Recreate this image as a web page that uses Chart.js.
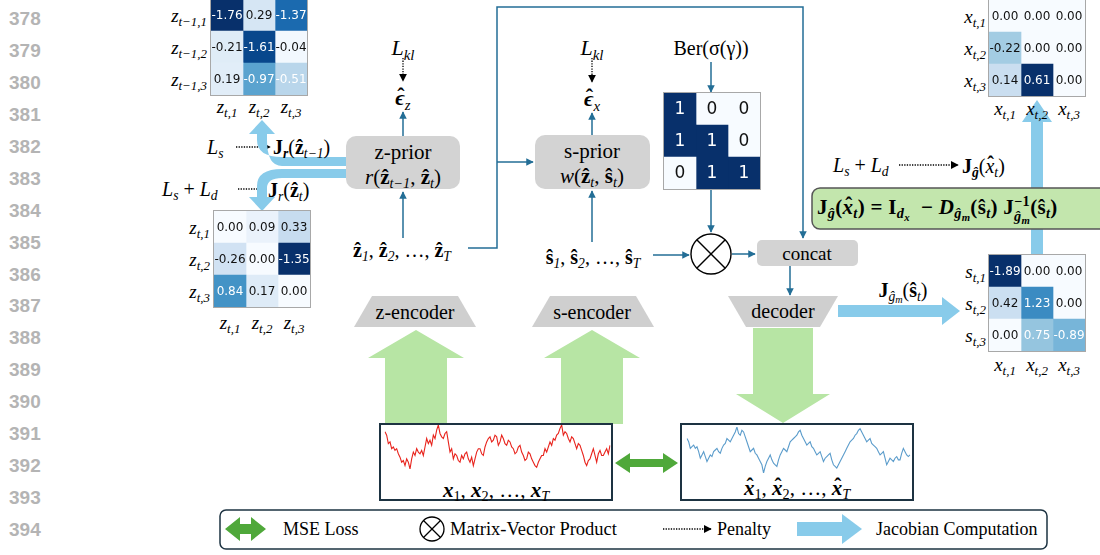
<!DOCTYPE html>
<html>
<head>
<meta charset="utf-8">
<script src="https://cdn.jsdelivr.net/npm/chart.js@4.4.1/dist/chart.umd.min.js"></script>
<style>
  body { margin:0; width:1100px; height:555px; overflow:hidden; background:#fff; position:relative; font-family:"Liberation Serif", serif; color:#000; }
  .t { position:absolute; white-space:nowrap; line-height:1; transform:translate(-50%,-50%); }
  .r { transform:translate(-100%,-50%); }
  .l { transform:translate(0,-50%); }
  .num { position:absolute; left:9px; font:600 19px "Liberation Sans", sans-serif; color:#b4b4b4; transform:translateY(-50%); }
  .mat { position:absolute; outline:1px solid #a8a8a8; }
  .mat canvas, .ts canvas { display:block; }
  .ts { position:absolute; }
  sub { font-size:68%; vertical-align:-0.32em; line-height:0; }
  sub sub, i sub { font-size:75%; vertical-align:-0.25em; }
  .ss { display:inline-block; font-size:68%; line-height:1.05; vertical-align:middle; text-align:left; }
  .ss span { display:block; }
  .hat { position:relative; display:inline-block; }
  .hat::after { content:'ˆ'; position:absolute; left:58%; top:-0.1em; transform:translateX(-50%); font-style:normal; font-weight:bold; }
  svg { position:absolute; left:0; top:0; }
</style>
</head>
<body>
<svg width="1100" height="555">
  <defs>
    <marker id="ah" viewBox="0 0 10 10" refX="9" refY="5" markerWidth="5" markerHeight="5" orient="auto"><path d="M0,0L10,5L0,10z" fill="#236e96"/></marker>
    <marker id="ak" viewBox="0 0 10 10" refX="9" refY="5" markerWidth="6" markerHeight="6" orient="auto"><path d="M0,0L10,5L0,10z" fill="#000"/></marker>
  </defs>
  <!-- grijze blokken -->
  <rect x="346" y="136" width="114" height="53" rx="10" fill="#d3d3d3"/>
  <rect x="535" y="135" width="115" height="54" rx="10" fill="#d3d3d3"/>
  <rect x="757" y="240" width="101" height="26" rx="5" fill="#d3d3d3"/>
  <polygon points="372,296 458,296 476,327 354,327" fill="#cfcfcf"/>
  <polygon points="550,296 636,296 654,327 532,327" fill="#cfcfcf"/>
  <polygon points="728,296 838,296 820,327 746,327" fill="#cfcfcf"/>
  <!-- groene pijlen -->
  <polygon points="385,424 447,424 447,358 464,358 416,330 368,358 385,358" fill="#b7e5a4"/>
  <polygon points="561,424 623,424 623,358 640,358 592,330 544,358 561,358" fill="#b7e5a4"/>
  <polygon points="753,328 813,328 813,394 830,394 783,423 736,394 753,394" fill="#b7e5a4"/>
  <!-- dunne pijlen -->
  <g stroke="#236e96" stroke-width="1.5" fill="none">
    <line x1="403" y1="238" x2="403" y2="192" marker-end="url(#ah)"/>
    <line x1="403" y1="136" x2="403" y2="112" marker-end="url(#ah)"/>
    <line x1="592" y1="242" x2="592" y2="191" marker-end="url(#ah)"/>
    <line x1="592" y1="135" x2="592" y2="113" marker-end="url(#ah)"/>
    <polyline points="468,248 497,248 497,7 803,7 803,238" marker-end="url(#ah)"/>
    <line x1="497" y1="162" x2="533" y2="162" marker-end="url(#ah)"/>
    <line x1="653" y1="255" x2="689" y2="255" marker-end="url(#ah)"/>
    <line x1="711" y1="62" x2="711" y2="92" marker-end="url(#ah)"/>
    <line x1="711" y1="190" x2="711" y2="232" marker-end="url(#ah)"/>
    <line x1="732" y1="254" x2="755" y2="254" marker-end="url(#ah)"/>
    <line x1="790" y1="266" x2="790" y2="295" marker-end="url(#ah)"/>
  </g>
  <!-- product -->
  <g stroke="#000" stroke-width="1.4" fill="none">
    <circle cx="711" cy="254" r="20"/>
    <line x1="697" y1="240" x2="725" y2="268"/>
    <line x1="725" y1="240" x2="697" y2="268"/>
  </g>
  <!-- penalty -->
  <g stroke="#000" stroke-width="1.3" stroke-dasharray="1.3,1.3" fill="none">
    <line x1="403" y1="58" x2="403" y2="81" marker-end="url(#ak)"/>
    <line x1="592" y1="58" x2="592" y2="82" marker-end="url(#ak)"/>
    <line x1="236" y1="147" x2="270" y2="147" marker-end="url(#ak)"/>
    <line x1="238" y1="189" x2="266" y2="189" marker-end="url(#ak)"/>
    <line x1="899" y1="165" x2="958" y2="165" marker-end="url(#ak)"/>
  </g>
  <!-- jacobiaan -->
  <g fill="#88cbea">
    <path d="M346,157 L282,157 Q257,157 257,140 L257,133 L267,133 L267,140 Q267,166 282,166 L346,166 Z"/>
    <polygon points="249,134 275,134 262,120"/>
    <path d="M346,169 L282,169 Q257,169 257,186 L257,198 L267,198 L267,188 Q267,178 282,178 L346,178 Z"/>
    <polygon points="249,197 275,197 262,211"/>
    <rect x="1031" y="120" width="12" height="135"/>
    <polygon points="1022,122 1052,122 1037,100"/>
    <rect x="838" y="305" width="104" height="12"/>
    <polygon points="942,297 942,325 960,311"/>
  </g>
  <rect x="812" y="188" width="300" height="41" rx="8" fill="#c3e6ad" stroke="#555" stroke-width="1.5"/>
  <rect x="380" y="424" width="232" height="76" fill="none" stroke="#1d3342" stroke-width="2"/>
  <rect x="681" y="424" width="232" height="76" fill="none" stroke="#1d3342" stroke-width="2"/>
  <polygon points="615,463 630,453 630,459 663,459 663,453 678,463 663,473 663,467 630,467 630,473" fill="#4fa83a"/>
  <!-- legenda -->
  <rect x="220" y="510" width="827" height="39" rx="6" fill="none" stroke="#1d3342" stroke-width="1.5"/>
  <polygon points="225,529 240,517 240,524 251,524 251,517 266,529 251,541 251,534 240,534 240,541" fill="#4fa83a"/>
  <g stroke="#000" stroke-width="1.3" fill="none">
    <circle cx="432" cy="529" r="12"/>
    <line x1="423.5" y1="520.5" x2="440.5" y2="537.5"/>
    <line x1="440.5" y1="520.5" x2="423.5" y2="537.5"/>
  </g>
  <line x1="663" y1="529" x2="711" y2="529" stroke="#000" stroke-width="1.3" stroke-dasharray="1.3,1.3" marker-end="url(#ak)"/>
  <rect x="797" y="522" width="46" height="14" fill="#88cbea"/>
  <polygon points="842,514 842,544 862,529" fill="#88cbea"/>
</svg>
<div id="labels"></div>
<script>
// === JACOBIAAN MATRICES ===
const jacZPrev = [[-1.76, 0.29, -1.37], [-0.21, -1.61, -0.04], [0.19, -0.97, -0.51]];
const jacZCur  = [[0.00, 0.09, 0.33], [-0.26, 0.00, -1.35], [0.84, 0.17, 0.00]];
const jacGX    = [[0.00, 0.00, 0.00], [-0.22, 0.00, 0.00], [0.14, 0.61, 0.00]];
const jacGS    = [[-1.89, 0.00, 0.00], [0.42, 1.23, 0.00], [0.00, 0.75, -0.89]];
const berMask  = [[1, 0, 0], [1, 1, 0], [0, 1, 1]];

// labels as [basis, subscript]
const zPrevRows = [['z', 't−1,1'], ['z', 't−1,2'], ['z', 't−1,3']];
const zCols     = [['z', 't,1'], ['z', 't,2'], ['z', 't,3']];
const xCols     = [['x', 't,1'], ['x', 't,2'], ['x', 't,3']];
const sRows     = [['s', 't,1'], ['s', 't,2'], ['s', 't,3']];

const xSeries = [12, 11, 8.5, 9, 7, 7.5, 6.5, 7, 5.5, 4.5, 3, 3.5, 2, 4, 3, 1, 4, 6, 5, 7, 6, 5.5, 6.5, 5, 7.5, 10, 8.5, 9.5, 8, 11,
  10, 12.5, 14, 11.5, 10.5, 10, 11.5, 12, 9, 6, 7, 4, 5.5, 5, 3.5, 3, 5, 4, 5.5, 6, 4, 3, 4.5, 2, 4, 6, 7, 7, 5.5, 5,
  7.5, 9, 10, 10.5, 9, 9.5, 11, 10.5, 8, 9, 11, 10, 8.5, 8, 9.5, 9, 7.5, 7, 5.5, 6, 7.5, 8, 6, 5, 3.5, 4, 6, 5.5, 4, 3,
  2, 1.5, 3, 4, 5, 5, 7, 6, 7.5, 9, 8, 10, 9.5, 11, 11.5, 13, 14, 11, 12, 11.5, 10, 9, 10.5, 10, 8.5, 7, 8.5, 8, 6.5, 5,
  3, 2, 3.5, 4, 5.5, 7, 5, 3, 5.5, 6.5, 5, 5, 6, 7, 5.5, 8];
const xHatSeries = [12, 11, 9, 9.5, 10, 9, 9.5, 8, 6, 7, 8, 6.5, 5, 6, 7, 6.5, 8, 8.5, 9, 8, 7.5, 9, 10, 10.5, 12, 11.5, 11, 12, 13, 14,
  15.5, 13.5, 13, 14.5, 14, 12.5, 11, 9.5, 8, 8.5, 9, 7.5, 7, 6, 5, 4, 1.5, 3.5, 5, 6, 7, 5.5, 4.5, 4, 3.5, 5.5, 7, 8, 9, 8.5,
  8, 9.5, 11, 11.5, 12, 12.5, 13, 14, 14.5, 13, 12, 11, 10, 10.5, 11, 9.5, 9, 8, 7, 7.5, 8, 6.5, 5, 6, 6.5, 7, 7.5, 5.5, 4, 3.5,
  3, 4, 5, 6, 7, 8, 9, 10, 11, 11.5, 12, 13, 13.5, 14.5, 15, 14, 13, 12, 11, 11.5, 12, 10.5, 10, 9.5, 9, 8, 7, 7.5, 8, 6,
  4, 5, 6, 5.5, 5, 6, 6.5, 5.5, 5.5, 7.5, 9, 8, 7, 6.5, 7];

const lineNumbers = ['378', '379', '380', '381', '382', '383', '384', '385', '386', '387', '388', '389', '390', '391', '392', '393', '394', '395'];

// Blues kleurenschaal (matplotlib)
const bluesStops = ['#f7fbff', '#deebf7', '#c6dbef', '#9ecae1', '#6baed6', '#4292c6', '#2171b5', '#08519c', '#08306b'];
function blues(t) {
  t = Math.max(0, Math.min(1, t));
  const p = t * (bluesStops.length - 1);
  const i = Math.min(Math.floor(p), bluesStops.length - 2);
  const f = p - i;
  const a = bluesStops[i], b = bluesStops[i + 1];
  const c = k => Math.round(parseInt(a.substr(k, 2), 16) * (1 - f) + parseInt(b.substr(k, 2), 16) * f);
  return 'rgb(' + c(1) + ',' + c(3) + ',' + c(5) + ')';
}

// tekst in de cellen
const cellLabels = {
  id: 'cellLabels',
  afterDatasetsDraw(chart, args, opts) {
    const ctx = chart.ctx;
    ctx.save();
    ctx.font = opts.font;
    ctx.textAlign = 'center';
    ctx.textBaseline = 'middle';
    chart.data.datasets.forEach((ds, c) => {
      chart.getDatasetMeta(c).data.forEach((el, r) => {
        const v = opts.values[r][c];
        ctx.fillStyle = Math.abs(v) / opts.vmax > opts.light ? '#fff' : '#111';
        ctx.fillText(opts.fmt(v), (el.x + el.base) / 2, el.y + 0.5);
      });
    });
    ctx.restore();
  }
};

function heatmap(values, left, top, cell, fmt, font, light) {
  const size = cell * 3;
  const wrap = document.createElement('div');
  wrap.className = 'mat';
  wrap.style.cssText = `left:${left}px;top:${top}px;width:${size}px;height:${size}px`;
  const cv = document.createElement('canvas');
  cv.width = size; cv.height = size;
  wrap.appendChild(cv);
  document.body.appendChild(wrap);
  const vmax = Math.max(...values.flat().map(Math.abs));
  new Chart(cv, {
    type: 'bar',
    data: {
      labels: ['1', '2', '3'],
      datasets: [0, 1, 2].map(c => ({
        data: [1, 1, 1],
        backgroundColor: values.map(row => blues(Math.abs(row[c]) / vmax)),
        borderWidth: 0,
        barPercentage: 1,
        categoryPercentage: 1
      }))
    },
    options: {
      indexAxis: 'y',
      responsive: false,
      animation: false,
      events: [],
      layout: { padding: 0 },
      plugins: {
        legend: { display: false },
        tooltip: { enabled: false },
        cellLabels: { values, vmax, fmt, font, light }
      },
      scales: {
        x: { stacked: true, display: false, min: 0, max: 3 },
        y: { stacked: true, display: false }
      }
    },
    plugins: [cellLabels]
  });
}

function lijn(values, left, top, w, h, color, min, max) {
  const wrap = document.createElement('div');
  wrap.className = 'ts';
  wrap.style.cssText = `left:${left}px;top:${top}px;width:${w}px;height:${h}px`;
  const cv = document.createElement('canvas');
  cv.width = w; cv.height = h;
  wrap.appendChild(cv);
  document.body.appendChild(wrap);
  new Chart(cv, {
    type: 'line',
    data: {
      labels: values.map((v, i) => i),
      datasets: [{ data: values, borderColor: color, borderWidth: 1.1, pointRadius: 0, tension: 0 }]
    },
    options: {
      responsive: false,
      animation: false,
      events: [],
      layout: { padding: 1 },
      plugins: { legend: { display: false }, tooltip: { enabled: false } },
      scales: {
        x: { display: false },
        y: { display: false, min, max }
      }
    }
  });
}

const fmt2 = v => v.toFixed(2);
const cellFont = '12px "DejaVu Sans", sans-serif';
heatmap(jacZPrev, 211, -1, 32, fmt2, cellFont, 0.25);
heatmap(jacZCur, 214, 211, 32, fmt2, cellFont, 0.38);
heatmap(jacGX, 989, 0, 32, fmt2, cellFont, 0.38);
heatmap(jacGS, 989, 255, 32, fmt2, cellFont, 0.38);
heatmap(berMask, 664, 93, 32, v => String(v), '17px "DejaVu Sans", sans-serif', 0.5);

lijn(xSeries, 384, 424, 227, 46, '#e8231c', 1, 14);
lijn(xHatSeries, 686, 426, 225, 48, '#5b9ccb', 1.5, 15.5);

// === TEKSTEN ===
const labels = document.getElementById('labels');
function put(html, x, y, size, cls, extra) {
  const d = document.createElement('div');
  d.className = 't ' + (cls || '');
  d.style.cssText = `left:${x}px;top:${y}px;font-size:${size}px;` + (extra || '');
  d.innerHTML = html;
  labels.appendChild(d);
}
const sym = (b, s) => `<i>${b}</i><sub><i>${s}</i></sub>`;
const hat = c => `<span class="hat">${c}</span>`;

lineNumbers.forEach((n, i) => {
  const d = document.createElement('div');
  d.className = 'num';
  d.style.top = (19 + i * 31.94) + 'px';
  d.textContent = n;
  document.body.appendChild(d);
});

zPrevRows.forEach((l, i) => put(sym(l[0], l[1]), 207, 15 + i * 32, 19, 'r'));
zCols.forEach((l, i) => put(sym(l[0], l[1]), 227 + i * 32, 106, 19));
zCols.forEach((l, i) => put(sym(l[0], l[1]), 210, 227 + i * 32, 19, 'r'));
zCols.forEach((l, i) => put(sym(l[0], l[1]), 230 + i * 32, 322, 19));
xCols.forEach((l, i) => put(sym(l[0], l[1]), 986, 16 + i * 32, 19, 'r'));
xCols.forEach((l, i) => put(sym(l[0], l[1]), 1005 + i * 32, 108, 19));
sRows.forEach((l, i) => put(sym(l[0], l[1]), 986, 271 + i * 32, 19, 'r'));
xCols.forEach((l, i) => put(sym(l[0], l[1]), 1005 + i * 32, 364, 19));

const zh = s => `<b>ẑ</b><sub><i>${s}</i></sub>`;
const sh = s => `<b>ŝ</b><sub><i>${s}</i></sub>`;

put(sym('L', 'kl'), 403, 48, 22);
put(sym('L', 'kl'), 592, 48, 22);
put(`<b><i>${hat('ϵ')}</i></b><sub><i>z</i></sub>`, 403, 98, 22);
put(`<b><i>${hat('ϵ')}</i></b><sub><i>x</i></sub>`, 592, 99, 22);
put('z-prior', 403, 152, 21);
put(`<i>r</i>(${zh('t−1')}, ${zh('t')})`, 403, 177, 21);
put('s-prior', 592, 151, 21);
put(`<i>w</i>(${zh('t')}, ${sh('t')})`, 592, 176, 21);
put('Ber(σ(γ))', 711, 48, 20);
put(`${zh('1')}, ${zh('2')}, …, ${zh('T')}`, 402, 250, 20);
put(`${sh('1')}, ${sh('2')}, …, ${sh('T')}`, 593, 257, 20);
put('concat', 807, 253, 19);
put('z-encoder', 415, 312, 20);
put('s-encoder', 592, 312, 20);
put('decoder', 783, 311, 20);
put(`<b>J</b><sub><i>ĝ<sub>m</sub></i></sub>(<b>ŝ</b><sub><i>t</i></sub>)`, 903, 290, 20);
put(`<b><i>x</i></b><sub>1</sub>, <b><i>x</i></b><sub>2</sub>, …, <b><i>x</i></b><sub><i>T</i></sub>`, 496, 490, 21);
put(`<b><i>${hat('x')}</i></b><sub>1</sub>, <b><i>${hat('x')}</i></b><sub>2</sub>, …, <b><i>${hat('x')}</i></b><sub><i>T</i></sub>`, 797, 488, 21);

put(sym('L', 's'), 207, 147, 20, 'l');
put(`<b>J</b><sub><b><i>r</i></b></sub>(${zh('t−1')})`, 273, 147, 20, 'l');
put(`${sym('L', 's')} + ${sym('L', 'd')}`, 162, 189, 20, 'l');
put(`<b>J</b><sub><i>r</i></sub>(${zh('t')})`, 268, 190, 20, 'l');
put(`${sym('L', 's')} + ${sym('L', 'd')}`, 833, 165, 20, 'l');
put(`<b>J</b><sub><b><i>ĝ</i></b></sub>(<i>${hat('x')}</i><sub><i>t</i></sub>)`, 962, 166, 20, 'l');
put(`<b>J</b><sub><i>ĝ</i></sub>(<i>${hat('x')}</i><sub><i>t</i></sub>) = <b>I</b><sub><i>d<sub>x</sub></i></sub> &nbsp;− <b><i>D</i></b><sub><i>ĝ<sub>m</sub></i></sub>(<b>ŝ</b><sub><i>t</i></sub>) <b>J</b><span class="ss"><span>−1</span><span><i>ĝ<sub>m</sub></i></span></span>(<b>ŝ</b><sub><i>t</i></sub>)`,
  817, 209, 21, 'l', 'font-weight:bold;letter-spacing:0.3px');

put('MSE Loss', 283, 529, 18, 'l');
put('Matrix-Vector Product', 450, 529, 18.5, 'l');
put('Penalty', 717, 529, 18, 'l');
put('Jacobian Computation', 876, 529, 18, 'l');
</script>
</body>
</html>
